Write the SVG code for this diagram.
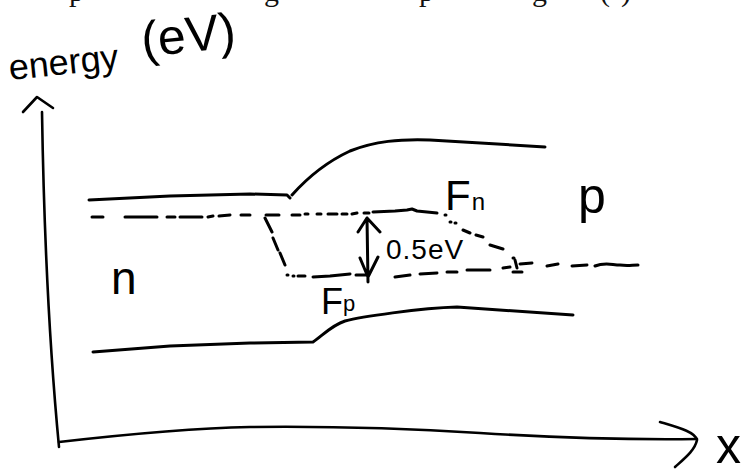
<svg xmlns="http://www.w3.org/2000/svg" width="751" height="470" viewBox="0 0 751 470">
<style>
.ln{fill:none;stroke:#000;stroke-width:3;stroke-linecap:round;stroke-linejoin:round}
.ax{fill:none;stroke:#000;stroke-width:2.6;stroke-linecap:round;stroke-linejoin:round}
.hw{font-family:"Liberation Sans","DejaVu Sans",sans-serif;fill:#000}
.cap{font-family:"Liberation Serif","DejaVu Serif",serif;font-size:30px;fill:#111}
</style>
<rect width="751" height="470" fill="#fff"/>
<g id="cropped-caption" class="cap">
<text x="69" y="0.5">p</text>
<text x="264" y="0.5">g</text>
<text x="419" y="0.5">p</text>
<text x="532" y="0.5">g</text>
<text x="600" y="0.5">(</text>
<text x="621" y="0.5">)</text>
</g>
<g id="axes">
<path class="ax" d="M42,112 Q45,300 59,447"/>
<path class="ax" d="M23,112 L37,97 L53,108"/>
<path class="ax" d="M59,442 C120,435 200,428 250,427 C330,426 400,428 480,433 C560,438 620,440 697,439"/>
<path class="ax" d="M660,422 C680,428 695,432 697,440 C695,450 685,458 675,467"/>
</g>
<g id="conduction-band">
<path class="ln" d="M89,200 L170,196 L250,194 L287,195 L290,198 M292,195 C300,186 320,165 350,151 C375,141 400,139 430,140 L545,147"/>
</g>
<g id="valence-band">
<path class="ln" d="M93,352 L170,346 L250,343 L313,342 C322,336 332,325 345,321 C360,317 420,308 457,307 L573,315"/>
</g>
<g id="electron-quasi-fermi">
<path class="ln" d="M92,217 L103,217 M125,217 L157,217 M167,217 L175,217 M180,217 L202,217 M208,217 L213,216 M219,216 L230,215 M241,215 L250,215 M266,215 L279,215 M292,215 L300,215 M305,214 L308,214 M317,214 L321,214 M328,214 L337,214 M342,214 L347,214 M352,214 L357,213 M364,213 L369,213 M373,212 L395,211 L407,210 L412,209 L417,211 L437,213 M445,215 L446,215 M450,222 L451,222 M455,223 L456,223 M463,230 L470,233 M476,235 L483,237 M490,245 L503,249 M513,258 L514,258"/>
</g>
<g id="hole-quasi-fermi">
<path class="ln" d="M265,218 L272,232 M273,238 L278,250 M280,253 L285,265 M287,275 L288,275 M293,276 L294,276 M298,276 L305,276 M313,277 L330,276 L350,274 M356,275 L366,275 M395,277 L410,275 M420,274 L437,273 M447,272 L457,272 M467,270 L490,270 M503,268 L510,267 M513,272 L522,272 M515,260 L517,268 M520,264 L532,263 M547,266 L558,264 M572,266 L587,265 M595,266 C605,262 612,265 620,265 C628,266 632,265 638,265"/>
</g>
<g id="gap-arrow">
<path class="ln" d="M367,218 L368,282 M358,232 L367,218 L380,232 M360,258 L368,277 L378,257"/>
<text class="hw" x="386" y="259" font-size="28" letter-spacing="1">0.5eV</text>
</g>
<g id="labels">
<text class="hw" x="10" y="80" font-size="36" transform="rotate(-6 10 80)">energy</text>
<text class="hw" x="143" y="57" font-size="50" transform="rotate(-6 143 57)">(eV)</text>
<text class="hw" x="111" y="294" font-size="46">n</text>
<text class="hw" x="578" y="213" font-size="50">p</text>
<text class="hw" x="445" y="210" font-size="42">F<tspan font-size="24" dx="1">n</tspan></text>
<text class="hw" x="321" y="314" font-size="36">F<tspan font-size="22" dx="0" dy="-3">p</tspan></text>
<text class="hw" x="716" y="463" font-size="50">x</text>
</g>
</svg>
